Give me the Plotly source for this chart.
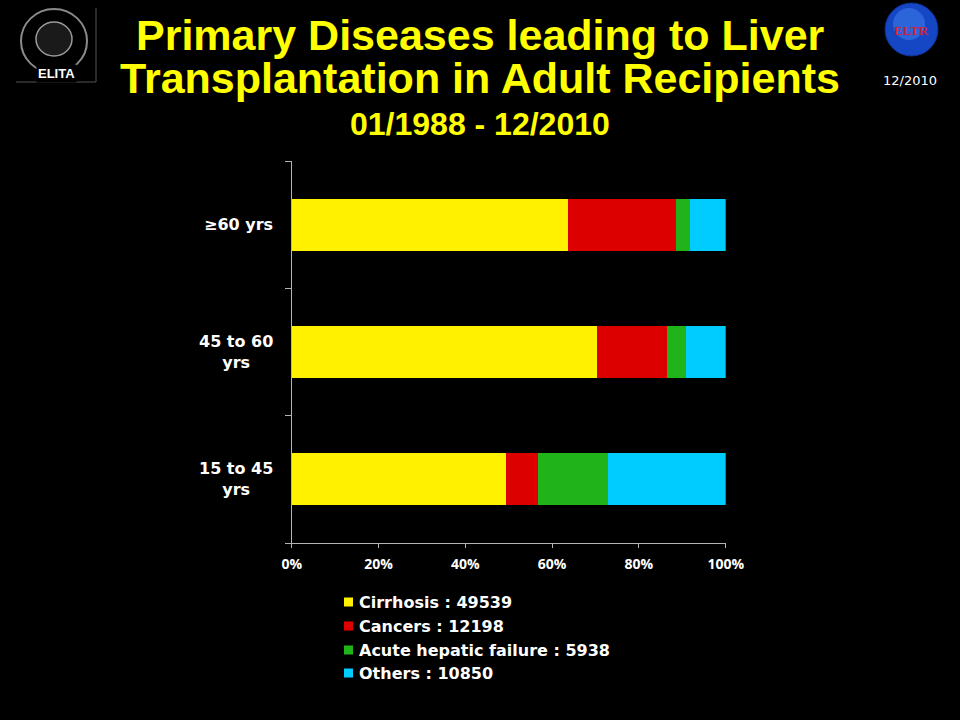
import plotly.graph_objects as go

# Données (pourcentages par tranche d'âge, du bas vers le haut)
age_groups = ["15 to 45 yrs", "45 to 60 yrs", "≥60 yrs"]
age_labels = ["15 to 45<br>yrs", "45 to 60<br>yrs", "≥60 yrs"]

diseases = ["Cirrhosis", "Cancers", "Acute hepatic failure", "Others"]
totals = [49539, 12198, 5938, 10850]

cirrhosis = [49.3, 70.3, 63.7]
cancers = [7.4, 16.2, 24.8]
acute_failure = [16.1, 4.3, 3.3]
others = [27.2, 9.2, 8.2]

x_ticks = [0, 20, 40, 60, 80, 100]
x_tick_labels = [f"{v}%" for v in x_ticks]

colors = ["#FFF100", "#DD0000", "#21B41A", "#00CCFF"]
series = [cirrhosis, cancers, acute_failure, others]

# Positions exprimées en pixels d'une page 960x720
W, H = 960, 720


def px_x(x):
    return x / W


def px_y(y):
    return 1 - y / H


fig = go.Figure()
for name, vals, col in zip(diseases, series, colors):
    fig.add_trace(go.Bar(
        y=age_groups, x=vals, orientation="h", name=name,
        marker=dict(color=col, line=dict(width=0)),
        showlegend=False,
    ))

axis_gray = "#B4B4B4"

fig.update_layout(
    autosize=True,
    paper_bgcolor="black", plot_bgcolor="black",
    margin=dict(l=0, r=0, t=0, b=0),
    barmode="stack", bargap=0.59,
    xaxis=dict(
        domain=[px_x(291.7), px_x(725.7)],
        range=[0, 100], tickmode="array",
        tickvals=x_ticks, ticktext=x_tick_labels,
        showgrid=False, zeroline=False,
        showline=True, linecolor=axis_gray, linewidth=1,
        ticks="outside", ticklen=4, tickcolor=axis_gray,
        tickfont=dict(family="Open Sans", size=14, color="white", weight="bold"),
        ticklabelstandoff=4,
        automargin=False, fixedrange=True,
    ),
    yaxis=dict(
        domain=[px_y(543), px_y(161)],
        type="category", categoryarray=age_groups,
        showgrid=False, zeroline=False,
        showline=True, linecolor=axis_gray, linewidth=1,
        ticks="outside", ticklen=6, tickcolor=axis_gray,
        tickson="boundaries", showticklabels=False,
        automargin=False, fixedrange=True,
    ),
)

# Étiquettes des catégories (centrées, sur deux lignes)
for cat, lab in zip(age_groups, age_labels):
    fig.add_annotation(
        x=px_x(275), xref="paper", y=cat, yref="y",
        text=lab, showarrow=False, xanchor="right", yanchor="middle",
        align="center",
        font=dict(family="DejaVu Sans", size=16, color="white", weight="bold"),
    )

# Titre
title_font = dict(family="Liberation Sans", color="#FFFF00", weight="bold")
for txt, yc, size in [
    ("Primary Diseases leading to Liver", 35, 43),
    ("Transplantation in Adult Recipients", 78, 43),
    ("01/1988 - 12/2010", 124, 32),
]:
    fig.add_annotation(
        x=px_x(480), xref="paper", y=px_y(yc), yref="paper",
        text=txt, showarrow=False, xanchor="center", yanchor="middle",
        font=dict(size=size, **title_font),
    )

# Légende manuelle
legend_rows = [602, 626, 650, 673]
for name, tot, col, yc in zip(diseases, totals, colors, legend_rows):
    fig.add_shape(
        type="rect", xref="paper", yref="paper",
        x0=px_x(344), x1=px_x(353), y0=px_y(yc + 4.5), y1=px_y(yc - 4.5),
        fillcolor=col, line=dict(width=0),
    )
    fig.add_annotation(
        x=px_x(357), xref="paper", y=px_y(yc), yref="paper",
        text=f"{name} : {tot}", showarrow=False,
        xanchor="left", yanchor="middle",
        font=dict(family="DejaVu Sans", size=16, color="white", weight="bold"),
    )

# Logo ELITA (approximation)
fig.add_shape(type="line", xref="paper", yref="paper",
              x0=px_x(96), x1=px_x(96), y0=px_y(8), y1=px_y(82),
              line=dict(color="#555555", width=1))
fig.add_shape(type="line", xref="paper", yref="paper",
              x0=px_x(16), x1=px_x(96), y0=px_y(82), y1=px_y(82),
              line=dict(color="#555555", width=1))
fig.add_shape(type="circle", xref="paper", yref="paper",
              x0=px_x(21), x1=px_x(87), y0=px_y(73), y1=px_y(9),
              line=dict(color="#8A8A8A", width=2))
fig.add_shape(type="circle", xref="paper", yref="paper",
              x0=px_x(36), x1=px_x(72), y0=px_y(56), y1=px_y(22),
              fillcolor="#1A1A1A", line=dict(color="#9A9A9A", width=1.5))
fig.add_annotation(
    x=px_x(56), xref="paper", y=px_y(74), yref="paper",
    text="ELITA", showarrow=False, bgcolor="black",
    xanchor="center", yanchor="middle",
    font=dict(family="Liberation Sans", size=13, color="white", weight="bold"),
)

# Logo ELTR (approximation)
fig.add_shape(type="circle", xref="paper", yref="paper",
              x0=px_x(885), x1=px_x(938), y0=px_y(56), y1=px_y(3),
              fillcolor="#1546C4", line=dict(color="#0E2F8C", width=1))
fig.add_shape(type="circle", xref="paper", yref="paper",
              x0=px_x(893), x1=px_x(925), y0=px_y(40), y1=px_y(8),
              fillcolor="#3C7AEA", opacity=0.6, line=dict(width=0))
fig.add_annotation(
    x=px_x(911), xref="paper", y=px_y(31), yref="paper",
    text="ELTR", showarrow=False, xanchor="center", yanchor="middle",
    font=dict(family="Liberation Serif", size=13, color="#D0203A", weight="bold"),
)
fig.add_annotation(
    x=px_x(910), xref="paper", y=px_y(80), yref="paper",
    text="12/2010", showarrow=False, xanchor="center", yanchor="middle",
    font=dict(family="DejaVu Sans", size=13, color="white"),
)

# La figure remplit la fenêtre ; on retire la marge par défaut du <body>
fig.write_html(
    "out.html",
    config={"displayModeBar": False},
    default_width="100vw", default_height="100vh",
    post_script=(
        "document.body.style.margin='0';"
        "document.body.style.overflow='hidden';"
        "document.body.style.background='black';"
    ),
)
